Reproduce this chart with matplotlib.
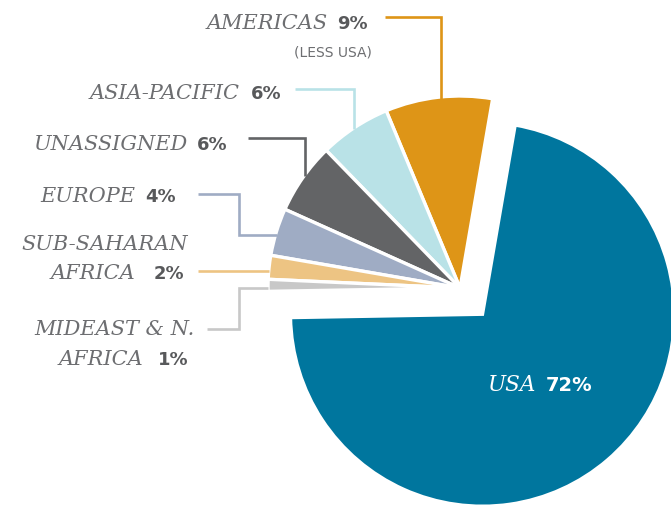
import matplotlib
matplotlib.use("Agg")
import matplotlib.pyplot as plt

# ---- data ----
regions = ["USA", "AMERICAS", "ASIA-PACIFIC", "UNASSIGNED", "EUROPE",
           "SUB-SAHARAN AFRICA", "MIDEAST & N. AFRICA"]
shares = [72, 9, 6, 6, 4, 2, 1]
pct_labels = ["72%", "9%", "6%", "6%", "4%", "2%", "1%"]
colors = ["#00769E", "#DE9517", "#B9E2E7", "#636466", "#9FACC4", "#EDC483", "#C8C8C8"]

W, H = 671, 508
fig = plt.figure(figsize=(W / 100, H / 100), dpi=100)

# pie axes: unit radius = 192 px, pie centre at pixel (460, 288)
R = 192.0
cx, cy = 460.0, 288.0
ax = fig.add_axes([0, 0, 1, 1])
explode = [0.18, 0, 0, 0, 0, 0, 0]
ax.pie(shares, colors=colors, startangle=181, counterclock=True,
       explode=explode, radius=1, center=(0, 0),
       wedgeprops=dict(edgecolor="white", linewidth=2.4))
ax.set_xlim((0 - cx) / R, (W - cx) / R)
ax.set_ylim((cy - H) / R, cy / R)
ax.set_aspect("auto")
ax.axis("off")

# overlay in pixel coordinates for labels and leaders
ov = fig.add_axes([0, 0, 1, 1], facecolor="none")
ov.set_xlim(0, W)
ov.set_ylim(H, 0)
ov.axis("off")

leaders = [
    ([385, 441, 441], [17, 17, 99], colors[1]),
    ([295, 354, 354], [89, 89, 129], colors[2]),
    ([248, 305, 305], [138, 138, 176], colors[3]),
    ([198, 239, 239, 277], [194, 194, 235, 235], colors[4]),
    ([198, 269], [271, 271], colors[5]),
    ([207, 239, 239, 268], [329, 329, 288, 288], colors[6]),
]
for xs, ys, c in leaders:
    ov.plot(xs, ys, color=c, lw=1.9, solid_joinstyle="miter", solid_capstyle="butt")

name_c = "#6D6E71"
pct_c = "#58595B"
serif = dict(family="DejaVu Serif", style="italic", fontsize=15, color=name_c,
             ha="right", va="baseline")
bold = dict(family="DejaVu Sans", weight="bold", fontsize=13, color=pct_c,
            ha="center", va="baseline")

ov.text(328, 29, "AMERICAS", **serif)
ov.text(352, 29, pct_labels[1], **bold)
ov.text(372, 57, "(LESS USA)", family="DejaVu Sans", fontsize=10, color=name_c,
        ha="right", va="baseline")
ov.text(240, 99, "ASIA-PACIFIC", **serif)
ov.text(266, 99, pct_labels[2], **bold)
ov.text(187, 150, "UNASSIGNED", **serif)
ov.text(212, 150, pct_labels[3], **bold)
ov.text(135, 202, "EUROPE", **serif)
ov.text(160, 202, pct_labels[4], **bold)
ov.text(188, 250, "SUB-SAHARAN", **serif)
ov.text(135, 279, "AFRICA", **serif)
ov.text(169, 279, pct_labels[5], **bold)
ov.text(195, 335, "MIDEAST & N.", **serif)
ov.text(143, 365, "AFRICA", **serif)
ov.text(173, 365, pct_labels[6], **bold)

ov.text(536, 391, "USA", family="DejaVu Serif", style="italic", fontsize=15.5,
        color="white", ha="right", va="baseline")
ov.text(569, 391, pct_labels[0], family="DejaVu Sans", weight="bold", fontsize=14,
        color="white", ha="center", va="baseline")

fig.savefig("out.png", dpi=100)
